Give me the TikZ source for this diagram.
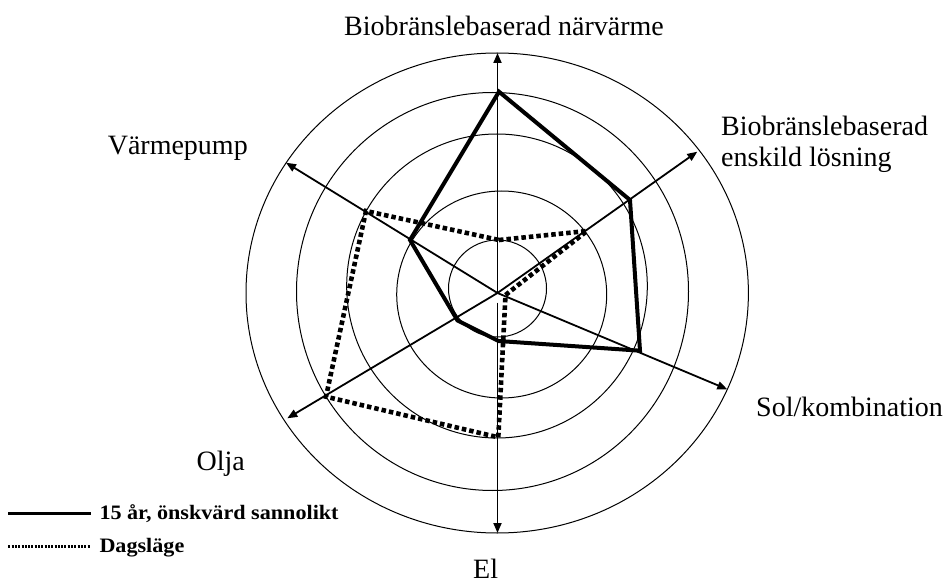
\documentclass[tikz,border=0pt]{standalone}
\usepackage{fontspec}
\setmainfont{Liberation Serif}
\newfontfamily\legfont[FakeStretch=1.08]{Liberation Serif}
\usetikzlibrary{arrows.meta}
\tikzset{
  ring/.style={draw=black, line width=1pt},
  axis/.style={draw=black, line width=1.8pt, -{Triangle[length=10pt,width=8pt]}},
  future/.style={draw=black, line width=4pt, line join=miter},
  today/.style={draw=black, line width=4.6pt, dash pattern=on 4.5pt off 3pt, line join=miter},
  lab/.style={inner sep=0pt, font=\fontsize{28}{31}\selectfont},
  leglab/.style={inner sep=0pt, font=\legfont\bfseries\fontsize{20.5}{23}\selectfont},
  legsolid/.style={draw=black, line width=3pt},
  legdot/.style={draw=black, line width=3pt, dash pattern=on 2pt off 1.3pt},
}
\begin{document}
\begin{tikzpicture}[x=1pt,y=-1pt]
\useasboundingbox (0,0) rectangle (946,583);
% rings
\draw[ring] (497.5,288.5) ellipse [x radius=49pt, y radius=48.5pt];
\draw[ring] (501.7,294.5) ellipse [x radius=105pt, y radius=103.5pt];
\draw[ring] (497,286) ellipse [x radius=150.3pt, y radius=152pt];
\draw[ring] (492.5,291.5) ellipse [x radius=196pt, y radius=199pt];
\draw[ring] (497.2,293) ellipse [x radius=251.2pt, y radius=240pt];
% axes
\coordinate (c) at (497.5,293);
\coordinate (cb) at (497.5,302.5);
\coordinate (tTop) at (497.5,53);
\coordinate (tBot) at (497.5,533);
\coordinate (tUR) at (697.3,151.7);
\coordinate (tLR) at (727.3,389.3);
\coordinate (tLL) at (287.3,418.3);
\coordinate (tUL) at (286,162.7);
\draw[axis] (c) -- (tTop);
\draw[axis] (cb) -- (tBot);
\draw[axis] (c) -- (tUR);
\draw[axis] (c) -- (tLR);
\draw[axis] (c) -- (tLL);
\draw[axis] (c) -- (tUL);
% data: 15 years
\coordinate (s1) at (499,91.7);
\coordinate (s2) at (630,200);
\coordinate (s3) at (640,350.7);
\coordinate (s4) at (498.5,341);
\coordinate (s5) at (457.5,320.5);
\coordinate (s6) at (410,240);
\draw[future] (s1) -- (s2) -- (s3) -- (s4) -- (s5) -- (s6) -- cycle;
% data: today
\coordinate (d1) at (499,240);
\coordinate (d2) at (587,231);
\coordinate (d3) at (505.5,295);
\coordinate (d4) at (498.3,437.3);
\coordinate (d5) at (326,396.7);
\coordinate (d6) at (366,211);
\draw[today] (d1) -- (d2) -- (d3) -- (d4) -- (d5) -- (d6) -- cycle;
% labels
\node[lab, anchor=base] (lTop) at (504,35.5) {Biobränslebaserad närvärme};
\node[lab, anchor=base west] (lUR1) at (721,136) {Biobränslebaserad};
\node[lab, anchor=base west] (lUR2) at (721,167) {enskild lösning};
\node[lab, anchor=base west] (lUL) at (107.6,155) {Värmepump};
\node[lab, anchor=base west] (lLR) at (756,416) {Sol/kombination};
\node[lab, anchor=base west] (lLL) at (196.5,470) {Olja};
\node[lab, anchor=base west] (lBot) at (473,578) {El};
% legend
\coordinate (la1) at (8.3,513.3);
\coordinate (la2) at (90.7,513.3);
\coordinate (lb1) at (8.3,546.7);
\coordinate (lb2) at (90.7,546.7);
\draw[legsolid] (la1) -- (la2);
\draw[legdot] (lb1) -- (lb2);
\node[leglab, anchor=base west] (legA) at (99.3,519.3) {15 år, önskvärd sannolikt};
\node[leglab, anchor=base west] (legB) at (99.3,552.7) {Dagsläge};
\end{tikzpicture}
\end{document}
